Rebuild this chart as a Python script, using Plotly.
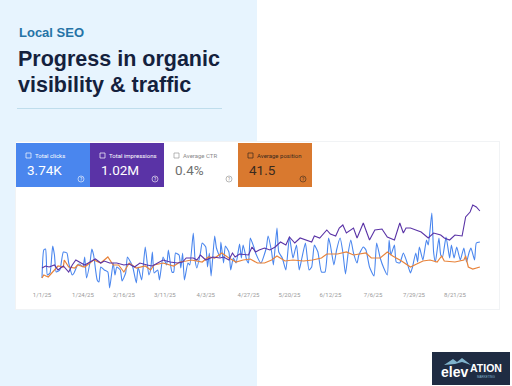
import pandas as pd
import plotly.graph_objects as go

W, H = 512, 386
START = pd.Timestamp("2025-01-01")

tick_dates = ["2025-01-01", "2025-01-24", "2025-02-16", "2025-03-11", "2025-04-03", "2025-04-27",
              "2025-05-20", "2025-06-12", "2025-07-06", "2025-07-29", "2025-08-21"]
tick_labels = ["1/1/25", "1/24/25", "2/16/25", "3/11/25", "4/3/25", "4/27/25",
               "5/20/25", "6/12/25", "7/6/25", "7/29/25", "8/21/25"]

clicks_day = [0,1,2,3,4.5,6,7,8,10,12,14,15,17,18,20,21,23,24,25,27,28,29,31,32,33,35,37,38,40,41,42,44,45,47,48,50,51,53,54,56,58,60,61,62,63,65,66,68,70,71,73,74,75,77,78,79,80,82,83,85,86,87,89,90,92,93,94,95,97,98,100,100.5,102,103,105,106,107.5,109,111,112,113,115,116,117,119,120,123,126,127,129,130,132,133,135,137,139,141,143,144.5,146,148,150,151.5,153,155,157,159,161,162,164,165.5,167.5,169,170.5,172,173.5,175,177,178,180.5,182,184,186.5,188,190,192,194,195,196,198,199,201,203,205,207,208,210,211,212,214,216,217,219,220,221,223,224,225,227,229,230,231.5,233,235,237,238.5,240,241,243,244,246]
clicks_val = [12,40,41,15,17,44,35,18,20,38,37,27,15,17,25,26,23,33,12,28,41,35,10,8,23,20,18,2,27,15,23,20,9,17,33,27,23,7,23,10,43,15,20,38,17,20,10,33,25,40,18,18,37,35,22,37,10,27,25,57,30,22,37,47,43,23,37,14,54,42,33,48,27,44,38,20,32,27,46,32,45,30,27,52,43,37,27,42,54,38,25,62,38,32,20,53,32,45,20,32,47,20,23,45,38,18,18,52,45,25,40,52,38,16,37,50,37,27,35,43,40,23,14,47,32,22,15,50,35,45,28,27,37,28,17,22,37,28,43,30,50,45,77,38,28,52,35,33,53,32,45,32,43,30,42,28,38,42,30,47,48]

impr_day = [0,2,4,7,9,12,15,17,19,21,24,27,30,33,35,38,42,46,49,52,55,59,62,65,68,72,76,79,81,85,87,89,92,96,100,102,105,107,108.5,111,116,118,120,122,125,128,131,134,137,139,142,145,149,151.5,153,156,160,162,165,167,169,171,175,177,180.5,184,187,191,194,198,201,203,204.5,207,210,213,217,220,224,226,229,232,236,238,240.5,242,244,246]
impr_val = [22,24,23,25,20,24,18,25,30,28,25,28,31,27,29,27,27,25,26,23,27,25,24,27,30,28,27,28,32,32,30,35,30,33,32,33,30,37,33,36,35,43,38,40,42,40,43,48,45,53,47,52,50,48,54,52,60,56,54,62,65,57,62,52,67,50,60,61,53,50,67,57,62,62,60,58,52,57,55,52,50,55,54,73,78,85,83,79]

pos_day = [0,1,3.5,6,9,12,12.5,15,18.5,20,24,29,33,37,40,43,46,49,53,58,61,63,68,74,77.5,81,84,90,93.5,97,101,105,109,113,117,121,125,129,132,136.5,141,147,152,157,160,166,171,175,182,185,190,194,197,202,207,210.5,214,218,222,224.5,226,232,237,238,239.5,242,246]
pos_val = [12,15,13,18,24,23,30,23,22,25,23,30,27,33,25,25,18,27,22,24,20,25,27,24,28,29,30,28,33,32,37,32,28,30,31,27,27,30,34,29,30,29,30,32,36,36,38,35,37,32,32,38,34,29,23,26,29,30,28,34,29,28,30,34,23,21,23]

tiles = [
    {"x0": 16, "x1": 90, "fill": "#4A86EE", "fg": "#FFFFFF", "label": "Total clicks", "value": "3.74K", "checked": True},
    {"x0": 90, "x1": 164, "fill": "#5A33A6", "fg": "#FFFFFF", "label": "Total impressions", "value": "1.02M", "checked": True},
    {"x0": 164, "x1": 238, "fill": "#FFFFFF", "fg": "#6F6F6F", "label": "Average CTR", "value": "0.4%", "checked": False},
    {"x0": 238, "x1": 312, "fill": "#D9792F", "fg": "#3A2A1E", "label": "Average position", "value": "41.5", "checked": True},
]


def px(x):
    return x / W


def py(y):
    return 1 - y / H


def dates(days):
    return [START + pd.Timedelta(hours=float(d) * 24) for d in days]


def rect(x0, y0, x1, y1, fill, line=None, layer="below", width=1):
    return dict(type="rect", xref="paper", yref="paper", x0=px(x0), x1=px(x1), y0=py(y1), y1=py(y0),
                fillcolor=fill, line=dict(color=line or "rgba(0,0,0,0)", width=width if line else 0), layer=layer)


def note(x, y, text, size, color, family="Roboto, sans-serif", anchor="left", bold=False):
    return dict(xref="paper", yref="paper", x=px(x), y=py(y), text=f"<b>{text}</b>" if bold else text,
                showarrow=False, xanchor=anchor, yanchor="middle", align=anchor, borderpad=0,
                font=dict(size=size, color=color, family=family))


SANS = "Liberation Sans, Arial, sans-serif"
shapes = [
    rect(0, 0, 257, 386, "#E7F4FE"),
    rect(17, 108, 222, 109, "#BFDDEC"),
    rect(15, 141, 500, 310, "#F1F3F5"),
    rect(16, 142, 499, 309, "#FFFFFF"),
]
annotations = [
    note(18, 33, "Local SEO", 13, "#2573A6", SANS, bold=True),
    note(17, 59, "Progress in organic", 21.5, "#14213D", SANS, bold=True),
    note(17, 85, "visibility &amp; traffic", 21.5, "#14213D", SANS, bold=True),
]

for t in tiles:
    shapes.append(rect(t["x0"], 143, t["x1"], 187, t["fill"]))
    box = t["fg"] if t["checked"] else "#9A9A9A"
    shapes.append(rect(t["x0"] + 10, 153, t["x0"] + 15, 158, "rgba(0,0,0,0)", box, layer="above", width=0.7))
    ix, iy = t["x1"] - 9, 179
    shapes.append(dict(type="circle", xref="paper", yref="paper", x0=px(ix - 3), x1=px(ix + 3), y0=py(iy + 3), y1=py(iy - 3),
                       line=dict(color=t["fg"] if t["checked"] else "#8A8A8A", width=0.6), fillcolor="rgba(0,0,0,0)", layer="above"))
    annotations.append(note(ix, iy, "?", 4.5, t["fg"] if t["checked"] else "#8A8A8A", anchor="center"))
    annotations.append(note(t["x0"] + 18, 155.5, t["label"], 6, t["fg"] if t["checked"] else "#8A8A8A"))
    annotations.append(note(t["x0"] + 10, 170, t["value"], 13.5, t["fg"]))

# logo
shapes.append(rect(432, 352, 510, 385, "#1F2C43"))
shapes.append(dict(type="path", xref="paper", yref="paper", layer="above", fillcolor="#7FB3CC", line=dict(width=0),
                   path=f"M {px(444)} {py(365)} L {px(453)} {py(359)} L {px(457)} {py(362)} L {px(462)} {py(358)} L {px(471)} {py(365)} L {px(462)} {py(362)} L {px(455)} {py(364)} Z"))
annotations.append(note(440, 372, "elev", 14, "#FFFFFF", SANS, bold=True))
annotations.append(note(469, 368, "ATION", 10.5, "#FFFFFF", SANS, bold=True))
annotations.append(note(486, 377, "MARKETING", 3, "#7FB3CC", SANS, anchor="center"))

fig = go.Figure()
fig.add_trace(go.Scatter(x=dates(clicks_day), y=clicks_val, mode="lines", name="Total clicks",
                         line=dict(color="#4A86EE", width=1.1, shape="spline", smoothing=0.5)))
fig.add_trace(go.Scatter(x=dates(pos_day), y=pos_val, mode="lines", name="Average position",
                         line=dict(color="#E8833A", width=1.2)))
fig.add_trace(go.Scatter(x=dates(impr_day), y=impr_val, mode="lines", name="Total impressions",
                         line=dict(color="#5A33A6", width=1.1)))

# plot spans x 30..490 px; 1.78 px per day with day 0 at x = 42
x_lo = START + pd.Timedelta(days=(30 - 42) / 1.78)
x_hi = START + pd.Timedelta(days=(490 - 42) / 1.78)

fig.update_layout(
    width=W, height=H, autosize=False, showlegend=False,
    margin=dict(l=0, r=0, t=0, b=0), paper_bgcolor="#FFFFFF", plot_bgcolor="rgba(0,0,0,0)",
    shapes=shapes, annotations=annotations,
    xaxis=dict(domain=[px(30), px(490)], range=[x_lo, x_hi], tickvals=tick_dates, ticktext=tick_labels,
               tickangle=0, showgrid=False, zeroline=False, ticks="", showline=False,
               tickfont=dict(size=6, color="#9A9A9A", family="Roboto, sans-serif")),
    yaxis=dict(domain=[py(290), py(190)], range=[0, 100], visible=False),
)
fig.write_html("out.html", config=dict(displayModeBar=False),
               post_script="document.body.style.margin='0';document.body.style.overflow='hidden';")
